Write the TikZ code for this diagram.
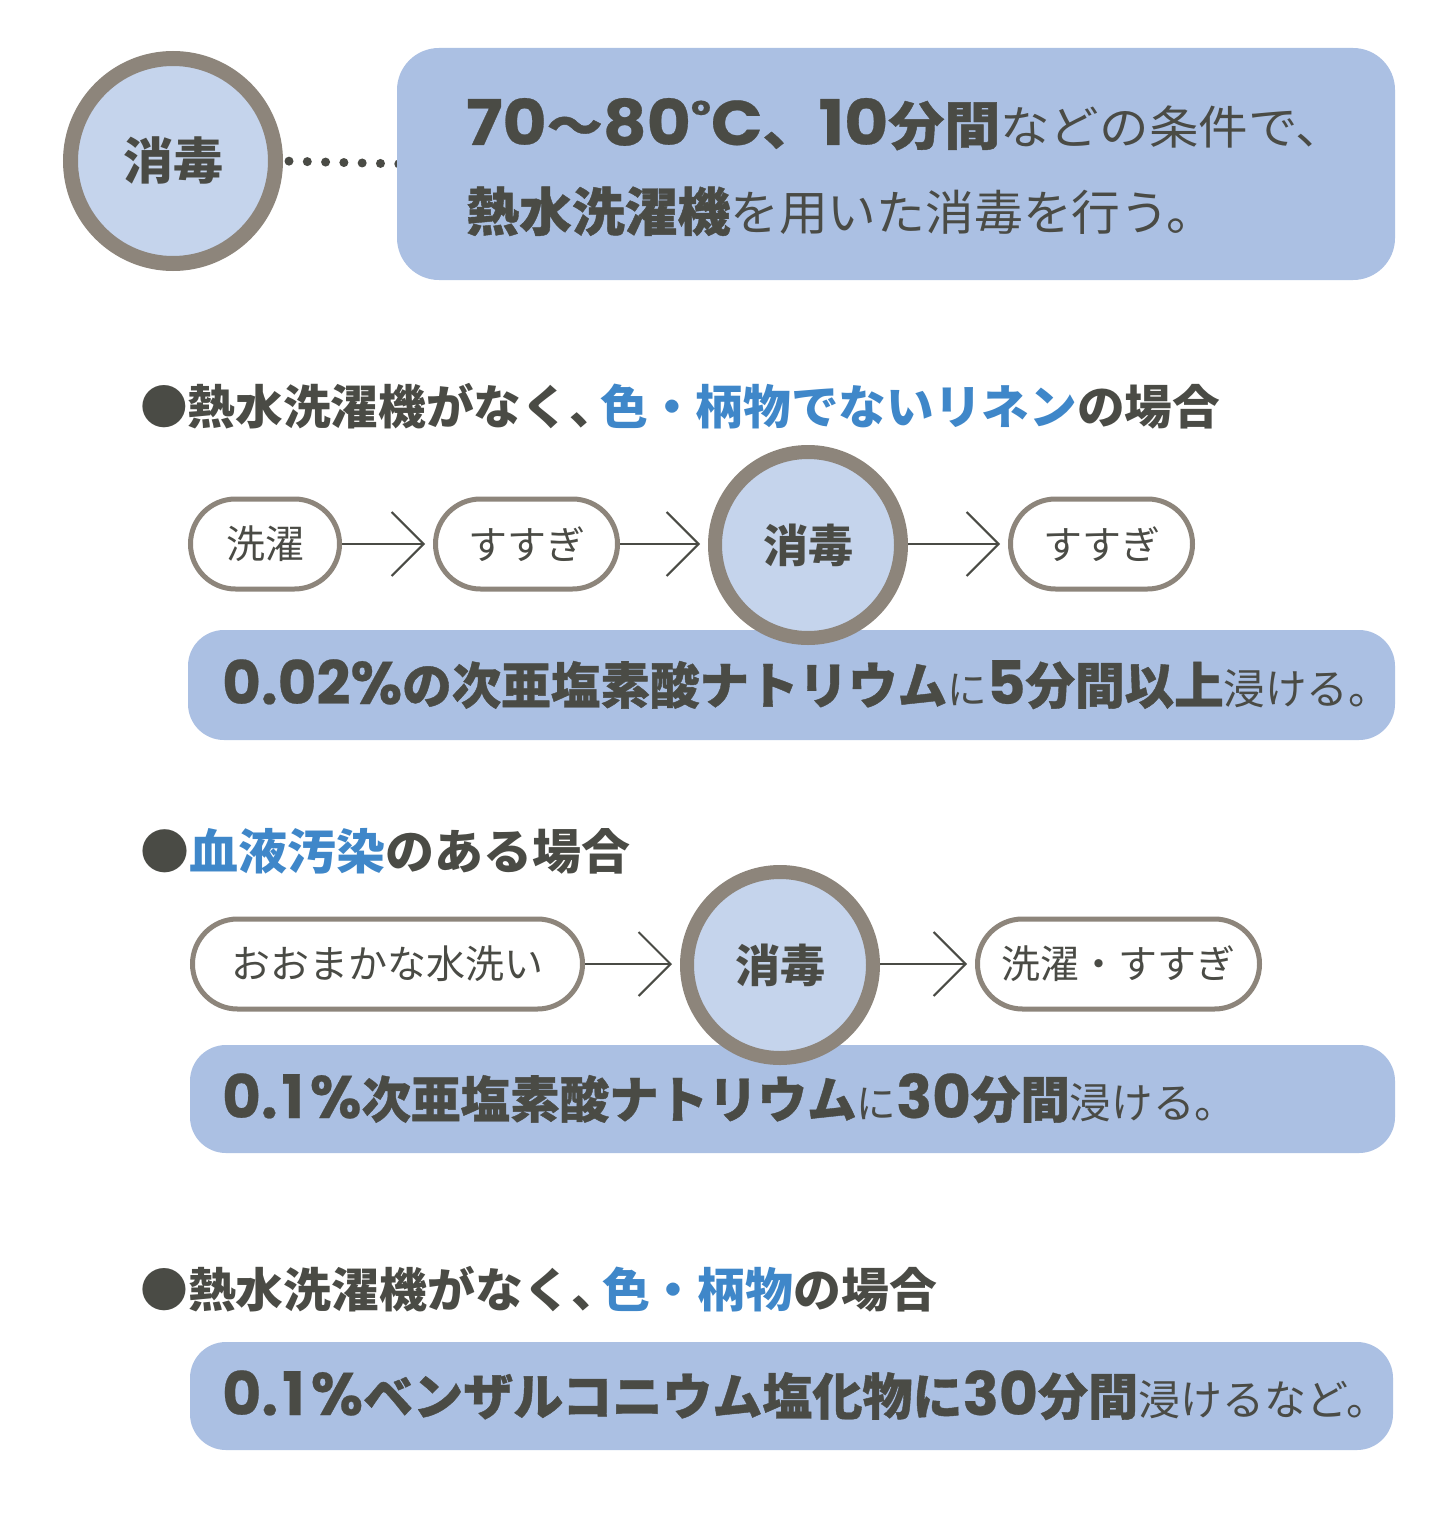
\documentclass[tikz,border=0pt]{standalone}
\usepackage{fontspec}
\usepackage{graphicx}
\usetikzlibrary{arrows.meta}
\setmainfont{Noto Sans CJK JP}
\newfontfamily\jpheavy{Noto Sans CJK JP}[BoldFeatures={FakeBold=0.8}]
\newfontfamily\pop{Poppins}[BoldFeatures={FakeBold=0.4}]
\definecolor{ring}{HTML}{8D857B}
\definecolor{cfill}{HTML}{C5D4EC}
\definecolor{bfill}{HTML}{ABC0E3}
\definecolor{ink}{HTML}{4A4B45}
\definecolor{blu}{HTML}{3F87C9}
\newcommand\jpB[1]{{\jpheavy\bfseries #1}}
\newcommand\numB[2]{{\fontsize{#1}{#1}\pop\bfseries #2}}
\newcommand\fsz[1]{\fontsize{#1}{#1}\selectfont}
\newcommand\tc{、\hspace{-0.35em}}
\newsavebox\fitbox
\newcommand\fitw[2]{\sbox\fitbox{#2}\pgfmathsetmacro\fitr{#1/\the\wd\fitbox}\scalebox{\fitr}[1]{\usebox\fitbox}}
\pgfdeclarelayer{bg}
\pgfsetlayers{bg,main}
\begin{document}
\begin{tikzpicture}[x=1pt,y=-1pt,
  every node/.style={inner sep=0pt, text=ink},
  circ/.style={circle, draw=ring, fill=cfill, font=\bfseries\fsz{45}},
  pill/.style={rectangle, rounded corners=45pt, draw=ring, line width=5pt, fill=white, minimum height=90pt, font=\fsz{39}},
  box/.style={rectangle, fill=bfill},
  conn/.style={draw=ink, line width=2pt, -{Straight Barb[length=32pt,width=64pt]}, shorten >=8pt},
  txt/.style={anchor=base west},
  head/.style={anchor=base west, font=\bfseries}]
\begin{pgfonlayer}{bg}
\fill[white] (0,0) rectangle (1440,1530);
\end{pgfonlayer}
\useasboundingbox (0,0) rectangle (1440,1530);

% top
\node[box, minimum width=998pt, minimum height=232pt, rounded corners=42pt] (b1) at (896,164) {};
\node[circ, minimum size=205pt, line width=15pt, font=\bfseries\fsz{50}] (c0) at (173,161) {消毒};
\begin{pgfonlayer}{bg}
\draw[ink, line width=9pt, line cap=round, dash pattern=on 0pt off 18.3pt, shorten <=6pt] (c0.east) -- ([xshift=6pt]b1.west);
\end{pgfonlayer}
\node[txt] (t1) at (466,145) {\fitw{879}{\fsz{46}\numB{63}{70}\jpB{\fsz{52}〜}\numB{63}{80}\numB{40}{\raisebox{16pt}{°}}\numB{63}{C}\jpB{\fsz{52}、}\numB{63}{10}\jpB{\fsz{52}分間}などの条件で、}};
\node[txt] (t2) at (466,231) {\fitw{749}{\fsz{48}\jpB{\fsz{52}熱水洗濯機}を用いた消毒を行う。}};

% section 1
\node[head] (h1) at (140,424) {\fitw{1080}{\fsz{47}●熱水洗濯機がなく\tc\textcolor{blu}{色・柄物でないリネン}の場合}};
\node[box, minimum width=1207pt, minimum height=110pt, rounded corners=36pt] (b2) at (791.5,685) {};
\node[pill, minimum width=149pt] (p1) at (265,544) {洗濯};
\node[pill, minimum width=182pt] (p2) at (526.5,544) {すすぎ};
\node[circ, minimum size=186pt, line width=14pt] (c1) at (808,545) {消毒};
\node[pill, minimum width=182pt] (p3) at (1101.5,544) {すすぎ};
\draw[conn] (p1.east) -- (p2.west);
\draw[conn] (p2.east) -- (p2.east -| c1.west);
\draw[conn] (p3.west -| c1.east) -- (p3.west);
\node[txt] (t3) at (222,704) {\fitw{1168}{\fsz{50}\numB{60}{0.02\%}\jpB{の次亜塩素酸ナトリウム}{\fsz{40}に}\numB{60}{5}\jpB{分間以上}{\fsz{42}浸ける。}}};

% section 2
\node[head] (h2) at (140,869) {\fitw{490}{\fsz{48}●\textcolor{blu}{血液汚染}のある場合}};
\node[box, minimum width=1205pt, minimum height=108pt, rounded corners=36pt] (b3) at (792.5,1099) {};
\node[pill, minimum width=390pt] (q1) at (387.5,964) {おおまかな水洗い};
\node[circ, minimum size=186pt, line width=14pt] (c2) at (780,965) {消毒};
\node[pill, minimum width=282pt] (q2) at (1118.5,964) {洗濯・すすぎ};
\draw[conn] (q1.east) -- (q1.east -| c2.west);
\draw[conn] (q2.west -| c2.east) -- (q2.west);
\node[txt] (t4) at (222,1118) {\fitw{1014}{\fsz{50}\numB{60}{0.\hspace{4pt}1\hspace{6pt}\%}\jpB{次亜塩素酸ナトリウム}{\fsz{40}に}\numB{60}{30}\jpB{分間}{\fsz{42}浸ける。}}};

% section 3
\node[head] (h3) at (140,1307) {\fitw{797}{\fsz{47}●熱水洗濯機がなく\tc\textcolor{blu}{色・柄物}の場合}};
\node[box, minimum width=1203pt, minimum height=108pt, rounded corners=36pt] (b4) at (791.5,1396) {};
\node[txt] (t5) at (222,1415) {\fitw{1166}{\fsz{50}\numB{60}{0.\hspace{4pt}1\hspace{6pt}\%}\jpB{ベンザルコニウム塩化物に}\numB{60}{30}\jpB{分間}{\fsz{42}浸けるなど。}}};
\end{tikzpicture}
\end{document}
